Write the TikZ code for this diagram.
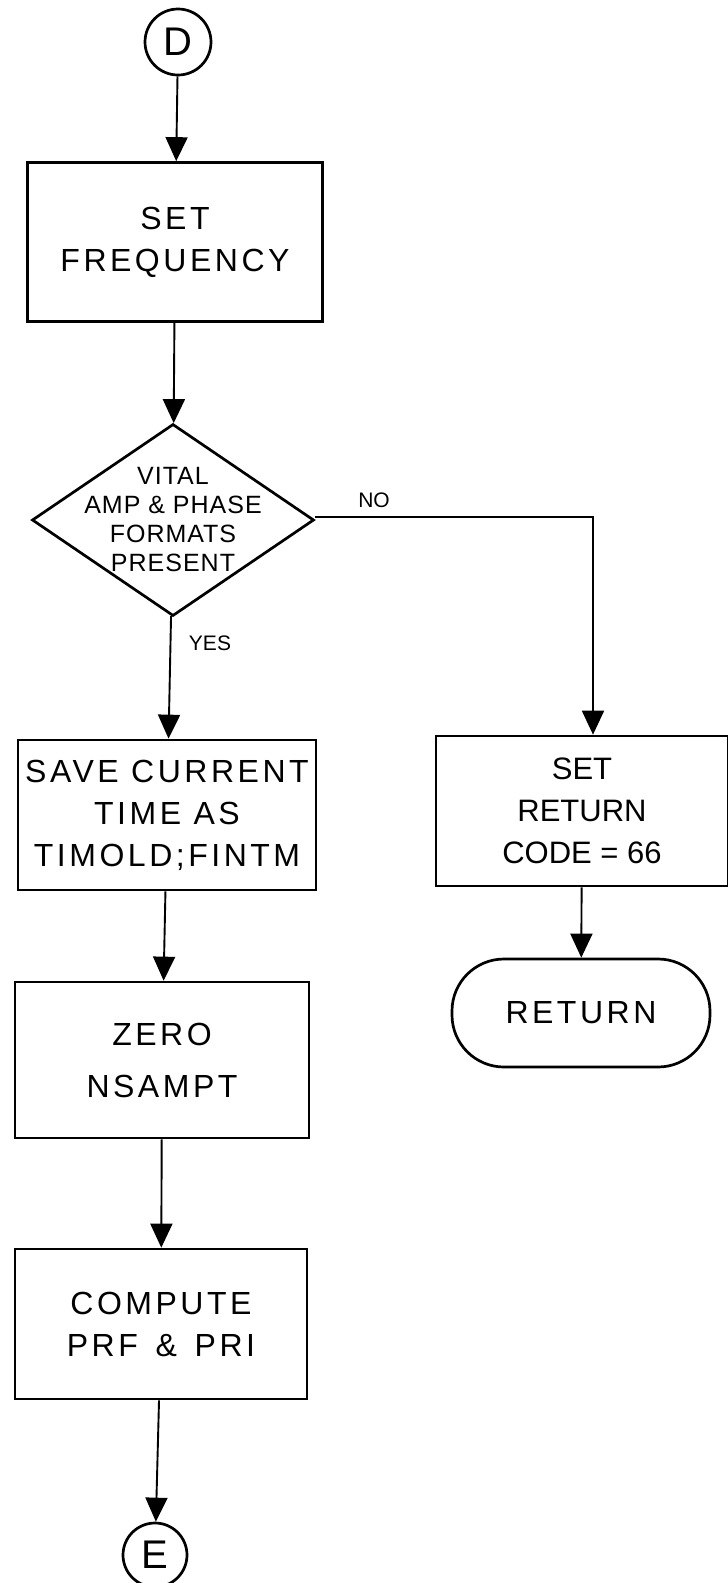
\documentclass[tikz,border=0pt]{standalone}
\usepackage{fontspec}
\setmainfont{Liberation Sans}
\newfontfamily\hand[LetterSpace=11]{Liberation Sans}
\newfontfamily\handsmall[LetterSpace=4]{Liberation Sans}
\usetikzlibrary{shapes,arrows.meta}

\begin{document}
\begin{tikzpicture}[x=1pt, y=-1pt, >={Triangle[length=24pt,width=22pt]}]
\tikzstyle{every node}=[draw, line width=2.7pt, align=center,
                        font=\hand\fontsize{32}{42}\selectfont]
\tikzstyle{conn}=[circle, minimum size=66pt, inner sep=0pt,
                  font=\fontsize{40}{40}\selectfont]
\tikzstyle{proc}=[rectangle, inner sep=0pt]
\tikzstyle{decide}=[diamond, inner sep=-40pt, minimum width=282pt,
                    minimum height=192pt, font=\handsmall\fontsize{25}{29}\selectfont]
\tikzstyle{term}=[rectangle, rounded corners=52pt, minimum width=258pt,
                  minimum height=108pt]
\tikzstyle{lbl}=[draw=none, font=\fontsize{21}{21}\selectfont]
\tikzstyle{flow}=[->, line width=1.9pt]
\useasboundingbox (0,0) rectangle (728,1583);
\path (178,42) node[conn] (D) {D};
\node[proc, minimum width=295pt, minimum height=159pt] (freq) at (175,242) {SET\\FREQUENCY};
\node[decide] (vital) at (173,520) {VITAL\\AMP \& PHASE\\FORMATS\\PRESENT};
\node[proc, minimum width=298pt, minimum height=150pt] (save) at (167,815) {SAVE CURRENT\\TIME AS\\TIMOLD;FINTM};
\node[proc, minimum width=294pt, minimum height=156pt] (zero) at (162,1060) {ZERO\\[10pt]NSAMPT};
\node[proc, minimum width=292pt, minimum height=150pt] (comp) at (161,1324) {COMPUTE\\PRF \,\&\, PRI};
\node[conn, minimum size=64pt] (E) at (155,1555) {E};
\node[proc, minimum width=292pt, minimum height=150pt, font=\fontsize{31}{42}\selectfont] (code) at (582,811) {SET\\RETURN\\CODE = 66};
\node[term] (ret) at (581,1013) {RETURN};
\node[lbl] (no) at (374,500) {NO};
\node[lbl] (yes) at (210,643) {YES};
%\draw (vital) -- (code);
\foreach \i/\j in {D/freq,freq/vital,vital/save,save/zero,zero/comp,comp/E,code/ret}{\draw[flow] (\i) -- (\j);}
\draw[flow] ([yshift=3pt]vital.east) -| ([xshift=11pt]code.north);

\end{tikzpicture}
\end{document}
